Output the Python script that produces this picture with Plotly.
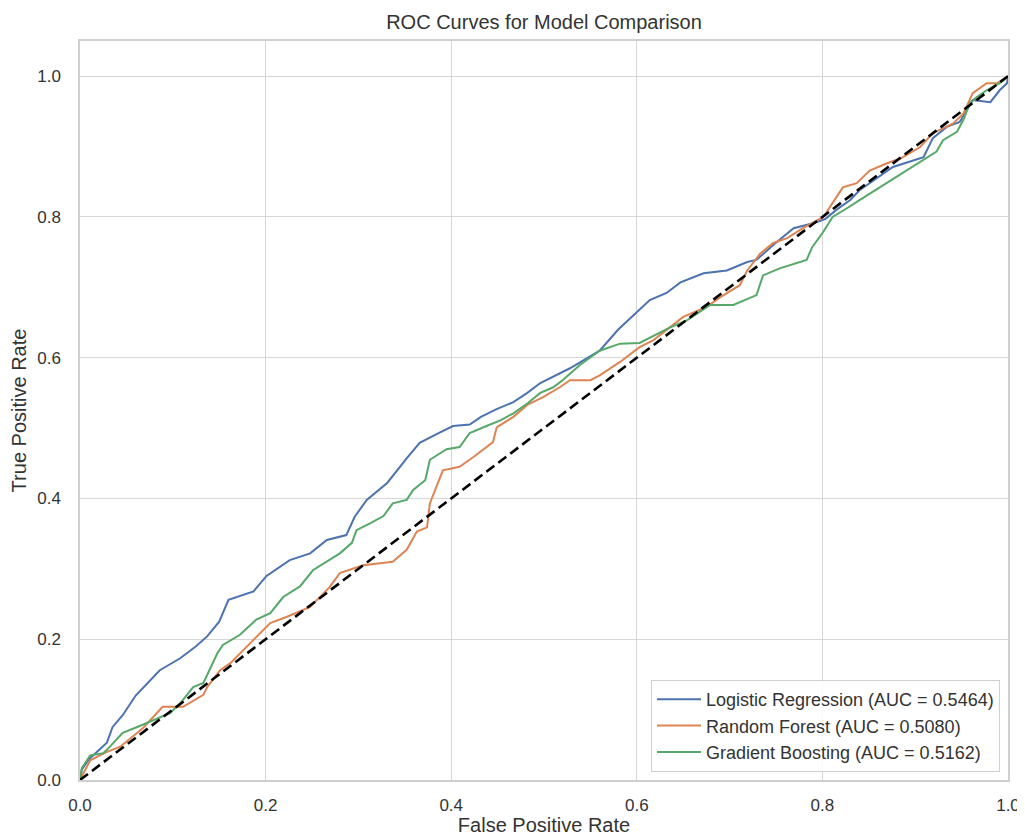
import plotly.graph_objects as go

# ---- data ----
lr_fpr = [0, 0.002, 0.01, 0.029, 0.035, 0.046, 0.06, 0.075, 0.086, 0.108, 0.125, 0.137, 0.15, 0.16, 0.187, 0.201,
          0.226, 0.248, 0.266, 0.287, 0.296, 0.309, 0.331, 0.352, 0.366, 0.388, 0.402, 0.42, 0.432, 0.449, 0.467,
          0.482, 0.496, 0.528, 0.56, 0.58, 0.603, 0.614, 0.632, 0.647, 0.672, 0.697, 0.719, 0.729, 0.747, 0.769,
          0.79, 0.803, 0.815, 0.83, 0.84, 0.876, 0.909, 0.919, 0.934, 0.948, 0.962, 0.981, 0.991, 0.999, 1.0]
lr_tpr = [0, 0.015, 0.03, 0.053, 0.075, 0.092, 0.12, 0.14, 0.156, 0.173, 0.19, 0.204, 0.225, 0.256, 0.268, 0.29,
          0.3125, 0.322, 0.341, 0.348, 0.374, 0.398, 0.422, 0.457, 0.479, 0.494, 0.503, 0.505, 0.516, 0.527, 0.537,
          0.55, 0.564, 0.585, 0.61, 0.64, 0.668, 0.682, 0.692, 0.707, 0.72, 0.724, 0.736, 0.739, 0.76, 0.784,
          0.791, 0.797, 0.81, 0.824, 0.838, 0.871, 0.885, 0.912, 0.928, 0.935, 0.966, 0.963, 0.98, 0.99, 1.0]

rf_fpr = [0, 0.011, 0.029, 0.043, 0.068, 0.089, 0.111, 0.133, 0.137, 0.151, 0.162, 0.187, 0.205, 0.223, 0.248,
          0.269, 0.28, 0.305, 0.337, 0.352, 0.363, 0.374, 0.377, 0.391, 0.409, 0.424, 0.445, 0.449, 0.467, 0.482,
          0.499, 0.517, 0.528, 0.55, 0.56, 0.582, 0.603, 0.618, 0.636, 0.65, 0.675, 0.69, 0.711, 0.719, 0.733,
          0.747, 0.762, 0.779, 0.801, 0.815, 0.822, 0.837, 0.851, 0.869, 0.884, 0.905, 0.919, 0.941, 0.952,
          0.962, 0.977, 0.988, 1.0]
rf_tpr = [0, 0.028, 0.04, 0.047, 0.074, 0.104, 0.104, 0.121, 0.132, 0.156, 0.166, 0.199, 0.223, 0.232, 0.246,
          0.274, 0.294, 0.305, 0.31, 0.327, 0.353, 0.359, 0.393, 0.44, 0.445, 0.459, 0.48, 0.501, 0.516, 0.533,
          0.544, 0.558, 0.568, 0.568, 0.575, 0.594, 0.615, 0.625, 0.643, 0.658, 0.672, 0.686, 0.703, 0.724, 0.748,
          0.763, 0.77, 0.784, 0.8, 0.828, 0.842, 0.848, 0.866, 0.876, 0.883, 0.899, 0.919, 0.933, 0.947,
          0.976, 0.99, 0.99, 1.0]

gb_fpr = [0, 0.002, 0.011, 0.025, 0.032, 0.046, 0.061, 0.079, 0.097, 0.108, 0.122, 0.133, 0.148, 0.154, 0.172,
          0.19, 0.205, 0.219, 0.237, 0.251, 0.266, 0.28, 0.293, 0.298, 0.313, 0.327, 0.337, 0.352, 0.359, 0.372,
          0.377, 0.395, 0.409, 0.42, 0.438, 0.453, 0.467, 0.482, 0.496, 0.51, 0.52, 0.539, 0.56, 0.582, 0.603,
          0.636, 0.654, 0.679, 0.704, 0.729, 0.736, 0.754, 0.783, 0.789, 0.801, 0.811, 0.826, 0.84, 0.923, 0.93,
          0.945, 0.952, 0.959, 0.966, 0.977, 0.991, 1.0]
gb_tpr = [0, 0.017, 0.035, 0.038, 0.047, 0.067, 0.075, 0.085, 0.095, 0.109, 0.132, 0.138, 0.18, 0.192, 0.206,
          0.228, 0.237, 0.26, 0.275, 0.298, 0.31, 0.322, 0.337, 0.355, 0.365, 0.375, 0.393, 0.398, 0.412, 0.426,
          0.455, 0.47, 0.473, 0.493, 0.503, 0.511, 0.521, 0.535, 0.55, 0.558, 0.568, 0.59, 0.61, 0.62, 0.621,
          0.643, 0.653, 0.675, 0.675, 0.689, 0.717, 0.727, 0.739, 0.757, 0.779, 0.8, 0.812, 0.824, 0.893, 0.909,
          0.921, 0.938, 0.962, 0.97, 0.98, 0.99, 1.0]

chance_x = [0, 1]
chance_y = [0, 1]

names = ["Logistic Regression (AUC = 0.5464)",
         "Random Forest (AUC = 0.5080)",
         "Gradient Boosting (AUC = 0.5162)"]
colors = ["#4C72B0", "#DD8452", "#55A868"]

FONT = "Liberation Sans, Arial, sans-serif"
TXT = "#333333"

fig = go.Figure()
for i, (fx, ty) in enumerate([(lr_fpr, lr_tpr), (rf_fpr, rf_tpr), (gb_fpr, gb_tpr)]):
    fig.add_trace(go.Scatter(x=fx, y=ty, mode="lines", name=names[i],
                             line=dict(color=colors[i], width=2)))
fig.add_trace(go.Scatter(x=chance_x, y=chance_y, mode="lines", showlegend=False,
                         line=dict(color="black", width=2.6, dash="10px,5px")))

axis_common = dict(showgrid=True, gridcolor="#d6d6d6", gridwidth=1.2, zeroline=False,
                   showline=True, linecolor="#cfcfcf", linewidth=1.5, mirror=True,
                   ticks="outside", tickcolor="rgba(0,0,0,0)", automargin=False,
                   tickfont=dict(family=FONT, size=17, color=TXT),
                   tickvals=[0, 0.2, 0.4, 0.6, 0.8, 1.0], tickformat=".1f")

# page has an 8px body margin, so the figure is sized to fill the rest of the window
fig.update_layout(
    width=1017, height=828,
    margin=dict(l=72, r=17, t=33, b=56),
    paper_bgcolor="white", plot_bgcolor="white",
    font=dict(family=FONT, color=TXT),
    title=dict(text="ROC Curves for Model Comparison", x=0.5, xref="paper", xanchor="center",
               y=1 - 14 / 828, yref="container", yanchor="middle",
               font=dict(family=FONT, size=20, color=TXT)),
    xaxis=dict(range=[0, 1], ticklen=9,
               title=dict(text="False Positive Rate", standoff=4,
                          font=dict(family=FONT, size=20, color=TXT)), **axis_common),
    yaxis=dict(range=[0, 1.05], ticklen=14,
               title=dict(text="True Positive Rate", standoff=10,
                          font=dict(family=FONT, size=20, color=TXT)), **axis_common),
    legend=dict(x=0.9914, y=0.0108, xanchor="right", yanchor="bottom",
                bgcolor="rgba(255,255,255,0.85)", bordercolor="#d0d0d0", borderwidth=1,
                itemwidth=44,
                font=dict(family=FONT, size=18, color=TXT)),
    showlegend=True,
)

fig.write_html("out.html")
